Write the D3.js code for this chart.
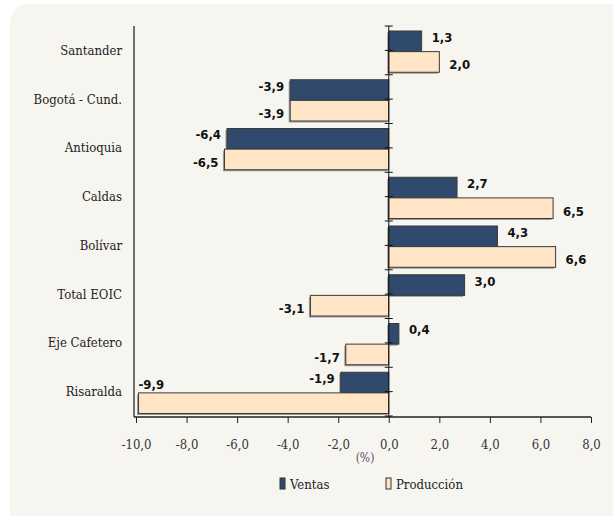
<!DOCTYPE html>
<html>
<head>
<meta charset="utf-8">
<script src="https://cdn.jsdelivr.net/npm/d3@7"></script>
<style>
  body { margin: 0; background: #fff; }
  svg { display: block; }
</style>
</head>
<body>
<svg id="chart" width="613" height="516"></svg>
<script>
// data
const regions = ["Santander", "Bogotá - Cund.", "Antioquia", "Caldas", "Bolívar", "Total EOIC", "Eje Cafetero", "Risaralda"];
const ventas = [1.3, -3.9, -6.4, 2.7, 4.3, 3.0, 0.4, -1.9];
const produccion = [2.0, -3.9, -6.5, 6.5, 6.6, -3.1, -1.7, -9.9];
const xTicks = [-10, -8, -6, -4, -2, 0, 2, 4, 6, 8];
const seriesNames = ["Ventas", "Producción"];

const svg = d3.select("#chart");
const fmt = v => v.toFixed(1).replace(".", ",");
const serif = "'DejaVu Serif Condensed', 'DejaVu Serif', serif";

const colors = { "Ventas": "#2f4a6d", "Producción": "#ffe5c6" };
const labelDy = { "Ventas": -4, "Producción": 3 };

// panel
svg.append("rect")
  .attr("x", 10).attr("y", 4)
  .attr("width", 640).attr("height", 530)
  .attr("rx", 18)
  .attr("fill", "#f7f5f0");

const x = d3.scaleLinear().domain([-10, 8]).range([136, 591]);
const y0 = d3.scaleBand().domain(regions).range([26, 416]);
const y1 = d3.scaleBand().domain(seriesNames).range([5, y0.bandwidth() - 2.5]);

const rows = regions.map((r, i) => ({ region: r, values: [ventas[i], produccion[i]] }));

const groups = svg.append("g")
  .selectAll("g")
  .data(rows)
  .join("g")
  .attr("transform", d => `translate(0,${y0(d.region)})`);

const bars = groups.selectAll("g")
  .data(d => seriesNames.map((k, j) => ({ key: k, value: d.values[j] })))
  .join("g");

// shadow
bars.append("rect")
  .attr("x", d => Math.min(x(0), x(d.value)) - 1.5)
  .attr("y", d => y1(d.key) + 1.5)
  .attr("width", d => Math.abs(x(d.value) - x(0)))
  .attr("height", y1.bandwidth())
  .attr("fill", "#9a9a9a");

bars.append("rect")
  .attr("x", d => Math.min(x(0), x(d.value)))
  .attr("y", d => y1(d.key))
  .attr("width", d => Math.abs(x(d.value) - x(0)))
  .attr("height", y1.bandwidth())
  .attr("fill", d => colors[d.key])
  .attr("stroke", "#3a3a3a")
  .attr("stroke-width", 1);

// value labels
bars.append("text")
  .attr("font-family", "'DejaVu Sans Condensed', sans-serif")
  .attr("font-weight", "bold")
  .attr("font-size", 13)
  .attr("fill", "#111")
  .attr("dominant-baseline", "central")
  .each(function(d) {
    const t = d3.select(this).text(fmt(d.value));
    const yc = y1(d.key) + y1.bandwidth() / 2;
    if (d.value >= 0) {
      t.attr("x", x(d.value) + 10).attr("y", yc + labelDy[d.key]).attr("text-anchor", "start");
    } else if (x(d.value) - 6 - 26 < x.range()[0]) {
      // no room on the left: put it above the bar start
      t.attr("x", x(d.value)).attr("y", y1(d.key) - 8).attr("text-anchor", "start");
    } else {
      t.attr("x", x(d.value) - 6).attr("y", yc + labelDy[d.key]).attr("text-anchor", "end");
    }
  });

// left frame line
svg.append("line")
  .attr("x1", 134).attr("x2", 134)
  .attr("y1", 26).attr("y2", 417)
  .attr("stroke", "#707070").attr("stroke-width", 2);

// bottom axis
const xAxis = svg.append("g")
  .attr("transform", "translate(0,417)")
  .call(d3.axisBottom(x).tickValues(xTicks).tickFormat(fmt).tickSize(6).tickPadding(17));
xAxis.select(".domain").attr("stroke", "#222").attr("stroke-width", 1.3).attr("d", "M134,0H591");
xAxis.selectAll(".tick line").attr("stroke", "#222");
xAxis.selectAll("text")
  .attr("font-family", serif)
  .attr("font-size", 13)
  .attr("fill", "#333");

// zero axis with ticks at band edges and centres
const zero = x(0);
svg.append("line")
  .attr("x1", zero).attr("x2", zero)
  .attr("y1", 26).attr("y2", 417)
  .attr("stroke", "#111").attr("stroke-width", 1);
const tickYs = d3.range(0, regions.length * 2 + 1).map(i => 26 + i * y0.bandwidth() / 2);
svg.append("g")
  .selectAll("line")
  .data(tickYs)
  .join("line")
  .attr("x1", zero - 4).attr("x2", zero + 4)
  .attr("y1", d => d).attr("y2", d => d)
  .attr("stroke", "#111");

// category labels
svg.append("g")
  .selectAll("text")
  .data(regions)
  .join("text")
  .attr("x", 122)
  .attr("y", d => y0(d) + y0.bandwidth() / 2)
  .attr("dominant-baseline", "central")
  .attr("text-anchor", "end")
  .attr("font-family", serif)
  .attr("font-size", 13)
  .attr("fill", "#222")
  .text(d => d);

// axis unit
svg.append("text")
  .attr("x", 365).attr("y", 462)
  .attr("text-anchor", "middle")
  .attr("font-family", serif)
  .attr("font-size", 12)
  .attr("fill", "#5a4a6a")
  .text("(%)");

// legend
const legend = svg.append("g")
  .selectAll("g")
  .data(seriesNames)
  .join("g")
  .attr("transform", (d, i) => `translate(${280 + i * 106},478)`);
legend.append("rect")
  .attr("width", 5).attr("height", 11)
  .attr("fill", d => colors[d])
  .attr("stroke", "#333");
legend.append("text")
  .attr("x", 10).attr("y", 6)
  .attr("dominant-baseline", "central")
  .attr("font-family", serif)
  .attr("font-size", 13)
  .attr("fill", "#222")
  .text(d => d);
</script>
</body>
</html>
